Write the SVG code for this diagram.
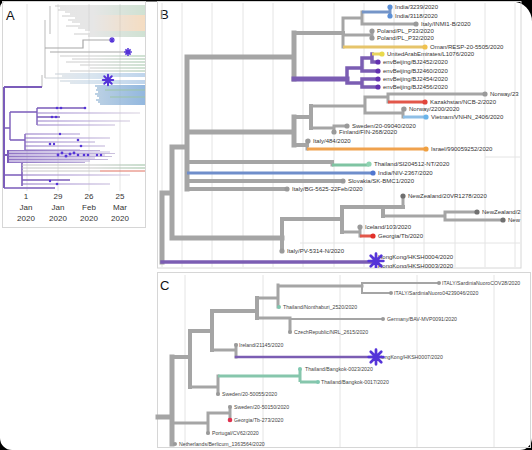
<svg xmlns="http://www.w3.org/2000/svg" width="532" height="450" viewBox="0 0 532 450">
<style>
text{font-family:"Liberation Sans",Arial,sans-serif;fill:#333}
.lb{font-size:6px}
.lc{font-size:5.2px;fill:#444}
.ax{font-size:8px;text-anchor:middle;fill:#333}
.pl{font-size:13px;fill:#111}
.grid{stroke:#e4e4e4;stroke-width:1;fill:none}
.frame{fill:none;stroke:#d6d6d6;stroke-width:1}
.g{stroke:#a5a5a5;fill:none;stroke-linecap:square}
.pu{stroke:#7b5db3;fill:none;stroke-linecap:square}
.gc{fill:#9a9a9a}
</style>
<defs>
<linearGradient id="gOr" gradientUnits="userSpaceOnUse" x1="40" y1="0" x2="145" y2="0"><stop offset="0" stop-color="#c4c4c4"/><stop offset="0.5" stop-color="#c8c8c8"/><stop offset="1" stop-color="#e8b276"/></linearGradient>
<linearGradient id="gGr" gradientUnits="userSpaceOnUse" x1="40" y1="0" x2="145" y2="0"><stop offset="0" stop-color="#c4c4c4"/><stop offset="0.5" stop-color="#c8c8c8"/><stop offset="1" stop-color="#95bd9c"/></linearGradient>
<linearGradient id="gBl" gradientUnits="userSpaceOnUse" x1="40" y1="0" x2="145" y2="0"><stop offset="0" stop-color="#d0d0d0"/><stop offset="0.5" stop-color="#a9c4dc"/><stop offset="1" stop-color="#6fa0d4"/></linearGradient>
<linearGradient id="gPu" gradientUnits="userSpaceOnUse" x1="0" y1="0" x2="145" y2="0"><stop offset="0" stop-color="#7c5cba"/><stop offset="0.5" stop-color="#a996d2"/><stop offset="1" stop-color="#dcd6e0"/></linearGradient>
<g id="star"><path d="M-7 0H7M0 -7V7M-5 -5L5 5M-5 5L5 -5" stroke="#5534d8" stroke-width="2.6" stroke-linecap="round" fill="none"/><circle r="1.8" fill="#5534d8"/></g>
<g id="starS"><path d="M-3 0H3M0 -3V3M-2 -2L2 2M-2 2L2 -2" stroke="#5534d8" stroke-width="1.2" fill="none"/></g>
<clipPath id="clipB"><rect x="157" y="0" width="364" height="268"/></clipPath>
</defs>
<rect width="532" height="450" fill="#000"/>
<path d="M6 1.5H512A20 20 0 0 1 532 21.5V438A12 12 0 0 1 520 450H12A12 12 0 0 1 0 438V7.5A6 6 0 0 1 6 1.5Z" fill="#fff"/>

<!-- ========== PANEL A ========== -->
<g id="panelA">
<rect class="frame" x="2.5" y="1.5" width="143" height="226"/>
<text class="pl" x="6" y="20">A</text>
<g class="grid"><path d="M27 4V191M58 4V191M89 4V191M120 4V191"/></g>
<g stroke-width="0.9" fill="none">
<path d="M50 6V34M45 20V78M42 75V87" stroke="#bbb" stroke-width="1"/>
<path d="M55 6H145M60 8H145M58 10H145M65 12H145M70 14H145" stroke="url(#gGr)"/>
<path d="M62 16H145M75 18H145M68 20H145M72 22H145M80 24H145M66 26H145M78 28H145M85 30H145" stroke="url(#gOr)"/>
<path d="M90 32H145M74 34H145M88 36H145" stroke="url(#gGr)"/>
<path d="M45 48H83V40H112M50 52H128" stroke="#a8a8a8" stroke-width="1.2"/>
<path d="M60 56H145M72 59H145M66 62H145M80 65H145M90 68H145M70 71H145" stroke="url(#gGr)"/>
<path d="M45 78H108M55 74H145M62 76H145M60 81H145M70 83H145" stroke="url(#gBl)"/>
<path d="M95 86H145M97 88H145M96 90H145M98 92H145M95 94H145M97 96H145M99 98H145M96 100H145M98 102H145M100 104H145" stroke="url(#gBl)" stroke-width="1.3"/>
<path d="M105 90H145M110 97H145" stroke="#9cc5a5" stroke-width="1"/>
</g>
<g fill="none" stroke-width="1.4">
<path d="M4 87V188M4 87H42" stroke="#7b5cba" stroke-width="2"/>
<path d="M4 128H10M10 112V140M10 112H37M37 108V125M37 108H85M37 117H60" stroke="#7b5cba"/>
<path d="M37 113H140M37 121H130M37 125H115" stroke="url(#gPu)" stroke-width="1"/>
<path d="M10 140H25M25 134V150" stroke="#7b5cba"/>
<path d="M25 134H80M25 138H110M25 142H95M25 146H105M25 150H80" stroke="url(#gPu)" stroke-width="1"/>
<path d="M4 155H8M8 150V163" stroke="#7b5cba" stroke-width="2"/>
<path d="M8 150.5H100M8 152H110M8 153.5H115M8 155H105M8 156.5H112M8 158H95M8 159.5H108M8 161H90M8 162.5H85" stroke="url(#gPu)" stroke-width="0.9"/>
<path d="M4 175H22M22 163V186M4 188H55" stroke="#7b5cba" stroke-width="1.6"/>
<path d="M22 165H145M22 168H145" stroke="url(#gGr)" stroke-width="1"/>
<path d="M22 171H100" stroke="#c8c8c8" stroke-width="1"/>
<path d="M100 171H145" stroke="#e07060" stroke-width="1"/>
<path d="M22 175H130M22 184H110" stroke="url(#gPu)" stroke-width="1"/>
<path d="M22 180H70" stroke="#7b5cba" stroke-width="1.4"/>
</g>
<g fill="#5534d8">
<circle cx="57" cy="108" r="1.3"/><circle cx="61" cy="108" r="1.3"/><circle cx="85" cy="108" r="1.3"/>
<circle cx="52" cy="117" r="1.3"/><circle cx="56" cy="117" r="1.3"/>
<circle cx="60" cy="134" r="1.2"/><circle cx="78" cy="140" r="1.3"/><circle cx="81" cy="146" r="1.3"/><circle cx="50" cy="144" r="1.3"/><circle cx="54" cy="144" r="1.2"/>
<circle cx="58" cy="155" r="1.4"/><circle cx="62" cy="153" r="1.4"/><circle cx="66" cy="156" r="1.5"/><circle cx="70" cy="154" r="1.5"/><circle cx="74" cy="153" r="1.4"/><circle cx="78" cy="155" r="1.3"/><circle cx="84" cy="155" r="1.3"/><circle cx="88" cy="155" r="1.3"/><circle cx="97" cy="155" r="1.2"/><circle cx="101" cy="155" r="1.2"/>
<circle cx="50" cy="181" r="1.2"/><circle cx="57" cy="184" r="1.3"/>
</g>
<use href="#starS" x="112" y="40"/>
<use href="#starS" transform="translate(128 52) scale(1.3)"/>
<use href="#star" transform="translate(108 80) scale(0.75)"/>
<text class="ax" x="26" y="199">1</text><text class="ax" x="26" y="210">Jan</text><text class="ax" x="26" y="221">2020</text>
<text class="ax" x="58" y="199">29</text><text class="ax" x="58" y="210">Jan</text><text class="ax" x="58" y="221">2020</text>
<text class="ax" x="89" y="199">26</text><text class="ax" x="89" y="210">Feb</text><text class="ax" x="89" y="221">2020</text>
<text class="ax" x="120" y="199">25</text><text class="ax" x="120" y="210">Mar</text><text class="ax" x="120" y="221">2020</text>
</g>

<!-- ========== PANEL B ========== -->
<rect class="frame" x="157.5" y="1.5" width="363.5" height="266.5"/>
<text class="pl" x="160" y="19">B</text>
<g class="grid"><path d="M162 3V267M182 3V267M212 3V267M243 3V267M273 3V267M303 3V267M334 3V267M364 3V267M394 3V267M424 3V267M455 3V267M485 3V267M515 3V267M485 157H520M300 243H520"/></g>
<g id="connectorsB" clip-path="url(#clipB)">
<path class="g" stroke-width="5" d="M187 57V189M187 57H294M294 33V79M187 132H294M294 117V145M187 147H172M172 147V238M162 193H172M162 193V262M172 238H282"/>
<path class="g" stroke-width="4" d="M294 33H343M294 117H311M311 106V128M187 162H332M187 181H343M187 189H287M282 219V251M282 219H342M342 207V232M342 207H403M383 207V216M294 145H307"/>
<path class="g" stroke-width="3" d="M343 18V47M343 18H362M362 12V24M362 24H416M343 35H372M372 31V38M311 106H365M365 97V113M365 97H388M388 94V102M388 94H485M365 113H403M403 109V117M311 128H334M334 126V132M334 126H347M307 141V149M332 162V165M403 196V207M383 216H445M445 212V220M445 212H477M445 220H503M342 232H360M360 227V236"/>
<path stroke="#7595c8" stroke-width="3" fill="none" d="M362 12H390M390 7V16"/>
<path stroke="#e6c46a" stroke-width="3" fill="none" d="M343 47H425"/>
<path class="pu" stroke-width="5" d="M294 79H347"/>
<path class="pu" stroke-width="3.5" d="M347 68V83M347 68H362M362 58V71M362 58H372M372 54V62M372 62H378M362 71H378M347 83H362M362 79V87M362 79H378M362 87H378"/>
<path stroke="#e8d460" stroke-width="3" fill="none" d="M372 54H382"/>
<path stroke="#e2574a" stroke-width="3" fill="none" d="M388 102H425M360 236H373"/>
<path stroke="#8fbfe6" stroke-width="3" fill="none" d="M403 117H426"/>
<path stroke="#f0a24e" stroke-width="3" fill="none" d="M307 149H426"/>
<path stroke="#7fc4a2" stroke-width="3" fill="none" d="M332 165H369"/>
<path stroke="#6f8ecb" stroke-width="3" fill="none" d="M187 173H373"/>
<path class="pu" stroke-width="3.5" d="M162 262H377"/>
</g>
<g id="leavesB" clip-path="url(#clipB)">
<g id="b-india3239"><circle cx="390" cy="7" r="2.6" fill="#5b8fd6"/><text class="lb" x="395" y="9">India/3239/2020</text></g>
<g id="b-india3118"><circle cx="390" cy="16" r="2.6" fill="#5b8fd6"/><text class="lb" x="395" y="18">India/3118/2020</text></g>
<g id="b-italyinmi"><circle cx="416" cy="24" r="2.6" class="gc"/><text class="lb" x="421" y="26">Italy/INMI1-B/2020</text></g>
<g id="b-polandp33"><circle cx="372" cy="31" r="2.6" class="gc"/><text class="lb" x="377" y="33">Poland/PL_P33/2020</text></g>
<g id="b-polandp32"><circle cx="372" cy="38" r="2.6" class="gc"/><text class="lb" x="377" y="40">Poland/PL_P32/2020</text></g>
<g id="b-oman"><circle cx="425" cy="47" r="2.6" fill="#f0c24e"/><text class="lb" x="430" y="49">Oman/RESP-20-5505/2020</text></g>
<g id="b-uae"><circle cx="382" cy="54" r="2.6" fill="#e9d94a"/><text class="lb" x="387" y="56">UnitedArabEmirates/L1076/2020</text></g>
<g id="b-bj2452"><circle cx="378" cy="62" r="2.6" fill="#6330b0"/><text class="lb" x="383" y="64">envBeijing/BJ2452/2020</text></g>
<g id="b-bj2460"><circle cx="378" cy="71" r="2.6" fill="#6330b0"/><text class="lb" x="383" y="73">envBeijing/BJ2460/2020</text></g>
<g id="b-bj2454"><circle cx="378" cy="79" r="2.6" fill="#6330b0"/><text class="lb" x="383" y="81">envBeijing/BJ2454/2020</text></g>
<g id="b-bj2456"><circle cx="378" cy="87" r="2.6" fill="#6330b0"/><text class="lb" x="383" y="89">envBeijing/BJ2456/2020</text></g>
<g id="b-norway23"><circle cx="485" cy="94" r="2.6" class="gc"/><text class="lb" x="490" y="96">Norway/23</text></g>
<g id="b-kazakhstan"><circle cx="425" cy="102" r="2.6" fill="#e2453a"/><text class="lb" x="430" y="104">Kazakhstan/NCB-2/2020</text></g>
<g id="b-norway2200"><circle cx="404" cy="109" r="2.6" class="gc"/><text class="lb" x="409" y="111">Norway/2200/2020</text></g>
<g id="b-vietnam"><circle cx="426" cy="117" r="2.6" fill="#6ab4ea"/><text class="lb" x="431" y="119">Vietnam/VNHN_2406/2020</text></g>
<g id="b-sweden09040"><circle cx="347" cy="126" r="2.6" class="gc"/><text class="lb" x="352" y="128">Sweden/20-09040/2020</text></g>
<g id="b-finland"><circle cx="334" cy="132" r="2.6" class="gc"/><text class="lb" x="339" y="134">Finland/FIN-268/2020</text></g>
<g id="b-italy484"><circle cx="308" cy="141" r="2.6" class="gc"/><text class="lb" x="313" y="143">Italy/484/2020</text></g>
<g id="b-israel"><circle cx="426" cy="149" r="2.6" fill="#f0a040"/><text class="lb" x="431" y="151">Israel/990059252/2020</text></g>
<g id="b-thailandsi"><circle cx="369" cy="164" r="2.6" fill="#8fd4b2"/><text class="lb" x="374" y="166">Thailand/SI204512-NT/2020</text></g>
<g id="b-indianiv"><circle cx="373" cy="173" r="2.6" fill="#5077d0"/><text class="lb" x="378" y="175">India/NIV-2367/2020</text></g>
<g id="b-slovakia"><circle cx="343" cy="181" r="2.6" class="gc"/><text class="lb" x="348" y="183">Slovakia/SK-BMC1/2020</text></g>
<g id="b-italybg"><circle cx="287" cy="189" r="2.6" class="gc"/><text class="lb" x="292" y="191">Italy/BG-5625-22Feb/2020</text></g>
<g id="b-nz1278"><circle cx="403" cy="196" r="2.6" fill="#707070"/><text class="lb" x="408" y="198">NewZealand/20VR1278/2020</text></g>
<g id="b-nz2"><circle cx="477" cy="212" r="2.6" fill="#707070"/><text class="lb" x="482" y="214">NewZealand/2</text></g>
<g id="b-new"><circle cx="503" cy="220" r="2.6" fill="#707070"/><text class="lb" x="508" y="222">New</text></g>
<g id="b-iceland"><circle cx="360" cy="227" r="2.6" class="gc"/><text class="lb" x="365" y="229">Iceland/103/2020</text></g>
<g id="b-georgiatb"><circle cx="373" cy="236" r="2.6" fill="#e2302a"/><text class="lb" x="378" y="238">Georgia/Tb/2020</text></g>
<g id="b-italypv"><circle cx="282" cy="251" r="2.6" class="gc"/><text class="lb" x="287" y="253">Italy/PV-5314-N/2020</text></g>
<g id="b-hk"><text class="lb" x="378" y="259">HongKong/HKSH0004/2020</text><text class="lb" x="378" y="268">HongKong/HKSH0003/2020</text><use href="#star" transform="translate(376 261) scale(1.05)"/></g>
</g>

<!-- ========== PANEL C ========== -->
<rect class="frame" x="157.5" y="272.5" width="373" height="175"/>
<text class="pl" x="160" y="290">C</text>
<g class="grid"><path d="M185 275V447M263 275V447M340 275V447M417 275V447M494 275V447"/></g>
<g id="connectorsC">
<path class="g" stroke-width="5" d="M172 357V444M158 417H172"/>
<path class="g" stroke-width="4" d="M172 357H190M190 331V387M190 331H212M212 311V350M212 311H257M257 298V318"/>
<path class="g" stroke-width="3" d="M257 298H278M278 285V307M278 286H362M257 318H290M290 319V332M212 350H236M236 345V357M190 387H218M218 376V394M172 423H208M208 413V433M208 413H230M230 407V420"/>
<path class="g" stroke-width="2" d="M362 283V293M362 283H439M362 293H391M290 319H383"/>
<path stroke="#86c6ac" stroke-width="3" fill="none" d="M218 376H300M300 369V382M300 382H318"/>
<path class="pu" stroke-width="2.5" d="M236 357H377"/>
</g>
<g id="leavesC">
<g id="c-sard28"><circle cx="439" cy="283" r="2" class="gc"/><text class="lc" x="442" y="285">ITALY/SardiniaNuoroCOV28/2020</text></g>
<g id="c-sard04"><circle cx="391" cy="293" r="2" class="gc"/><text class="lc" x="394" y="295">ITALY/SardiniaNuoro04239046/2020</text></g>
<g id="c-nonthaburi"><circle cx="279" cy="307" r="2" fill="#80c8b0"/><text class="lc" x="283" y="309">Thailand/Nonthaburi_2520/2020</text></g>
<g id="c-germany"><circle cx="383" cy="319" r="2" class="gc"/><text class="lc" x="387" y="321">Germany/BAV-MVP0091/2020</text></g>
<g id="c-czech"><circle cx="290" cy="332" r="2" class="gc"/><text class="lc" x="294" y="334">CzechRepublic/NRL_2615/2020</text></g>
<g id="c-ireland"><circle cx="236" cy="345" r="2" class="gc"/><text class="lc" x="239" y="347">Ireland/21145/2020</text></g>
<g id="c-hk7"><text class="lc" x="378" y="359">HongKong/HKSH0007/2020</text><use href="#star" transform="translate(376 357) scale(1.05)"/></g>
<g id="c-bkk23"><circle cx="300" cy="369" r="2" fill="#80c8b0"/><text class="lc" x="305" y="371">Thailand/Bangkok-0023/2020</text></g>
<g id="c-bkk17"><circle cx="318" cy="382" r="2" fill="#80c8b0"/><text class="lc" x="321" y="384">Thailand/Bangkok-0017/2020</text></g>
<g id="c-sw50055"><circle cx="218" cy="394" r="2" class="gc"/><text class="lc" x="222" y="396">Sweden/20-50055/2020</text></g>
<g id="c-sw50150"><circle cx="230" cy="407" r="2" class="gc"/><text class="lc" x="234" y="409">Sweden/20-50150/2020</text></g>
<g id="c-georgia"><circle cx="230" cy="420" r="2.3" fill="#e0304e"/><text class="lc" x="234" y="422">Georgia/Tb-273/2020</text></g>
<g id="c-portugal"><circle cx="208" cy="433" r="2" class="gc"/><text class="lc" x="212" y="435">Portugal/CV62/2020</text></g>
<g id="c-netherlands"><circle cx="175" cy="444" r="2" class="gc"/><text class="lc" x="179" y="446">Netherlands/Berlicum_1363564/2020</text></g>
</g>
</svg>
